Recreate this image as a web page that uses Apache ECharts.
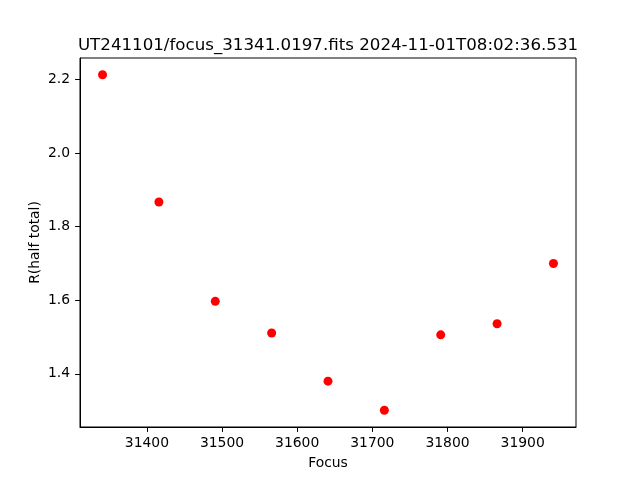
<!DOCTYPE html>
<html>
<head>
<meta charset="utf-8">
<script src="https://cdn.jsdelivr.net/npm/echarts@6/dist/echarts.min.js"></script>
<style>html,body{margin:0;padding:0;background:#fff;}#c{width:640px;height:480px;}</style>
</head>
<body>
<div id="c"></div>
<script>
const focusValues = [31341, 31416, 31491, 31566, 31641, 31716, 31791, 31866, 31941];
const rHalfTotal = [2.213, 1.867, 1.597, 1.511, 1.380, 1.301, 1.506, 1.536, 1.700];
const xTicks = [31400, 31500, 31600, 31700, 31800, 31900];
const yTicks = [1.4, 1.6, 1.8, 2.0, 2.2];
const titleText = 'UT241101/focus_31341.0197.fits 2024-11-01T08:02:36.531';

const xMin = 31311, xMax = 31971, yMin = 1.2554, yMax = 2.2586;
const font = 'DejaVu Sans';
const chart = echarts.init(document.getElementById('c'), null, {renderer: 'canvas'});
chart.setOption({
  animation: false,
  backgroundColor: '#fff',
  title: {
    text: titleText,
    left: 323, top: 32, textAlign: 'center',
    textStyle: {fontFamily: font, fontSize: 16.67, fontWeight: 'normal', color: '#000'}
  },
  grid: {left: 80, right: 64, top: 58, bottom: 53, show: true, borderColor: '#000', borderWidth: 1, backgroundColor: 'transparent'},
  xAxis: {
    type: 'value', min: xMin, max: xMax,
    name: 'Focus', nameLocation: 'middle', nameGap: 29,
    nameTextStyle: {fontFamily: font, fontSize: 13.9, color: '#000'},
    axisLine: {show: true, lineStyle: {color: '#000', width: 1}},
    axisTick: {show: true, inside: false, length: 4.9, lineStyle: {color: '#000'}, customValues: xTicks},
    axisLabel: {show: true, margin: 9, fontFamily: font, fontSize: 13.9, color: '#000', customValues: xTicks, formatter: v => String(v)},
    splitLine: {show: false}
  },
  yAxis: {
    type: 'value', min: yMin, max: yMax,
    name: 'R(half total)', nameLocation: 'middle', nameGap: 38, nameRotate: 90,
    nameMoveOverlap: false,
    nameTextStyle: {fontFamily: font, fontSize: 13.9, color: '#000'},
    axisLine: {show: true, lineStyle: {color: '#000', width: 1}},
    axisTick: {show: true, inside: false, length: 4.9, lineStyle: {color: '#000'}, customValues: yTicks},
    axisLabel: {show: true, margin: 10, fontFamily: font, fontSize: 13.9, color: '#000', customValues: yTicks, formatter: v => v.toFixed(1)},
    splitLine: {show: false}
  },
  series: [{
    type: 'scatter',
    data: focusValues.map((f, i) => [f, rHalfTotal[i]]),
    symbol: 'circle', symbolSize: 9,
    itemStyle: {color: '#ff0000', opacity: 1}
  }]
});
</script>
</body>
</html>
